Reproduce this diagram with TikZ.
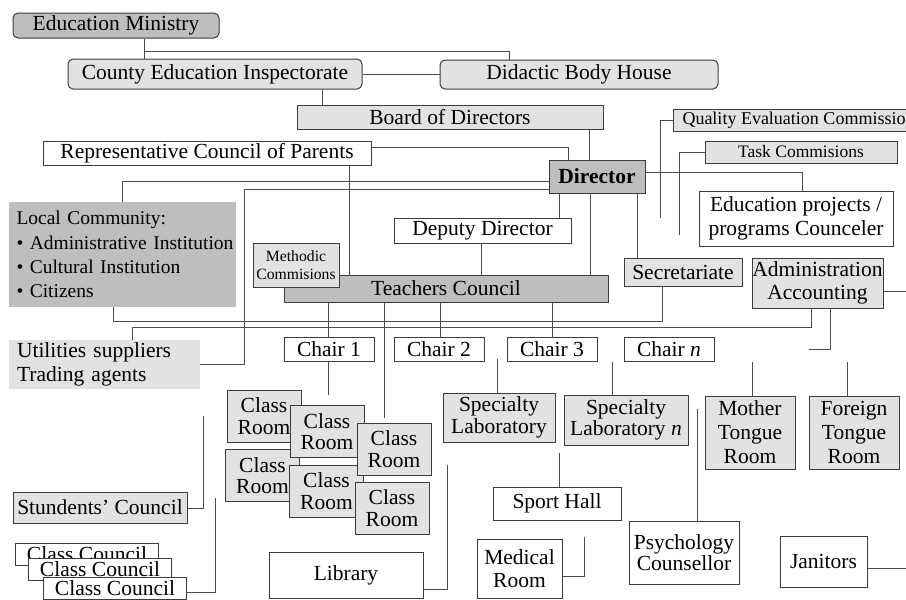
\documentclass[tikz,border=0pt]{standalone}
\usepackage{fontspec}
\setmainfont{Liberation Serif}
\definecolor{dfill}{RGB}{190,190,190}
\definecolor{lfill}{RGB}{225,226,228}
\definecolor{bord}{RGB}{60,60,60}
\definecolor{conn}{RGB}{75,75,75}
\pgfdeclarelayer{bg}
\pgfsetlayers{bg,main}
\tikzset{
 bx/.style={draw=bord, line width=1pt, inner sep=0pt, align=center, font=\fontsize{21.5}{22.5}\selectfont},
 lt/.style={bx, fill=lfill},
 dk/.style={bx, fill=dfill},
 wh/.style={bx, fill=white},
 rnd/.style={rounded corners=5pt},
 cn/.style={draw=conn, line width=1pt},
 sz/.style n args={2}{minimum width=#1pt, minimum height=#2pt},
 croom/.style={lt, sz={74}{52}, font=\fontsize{21.5}{21.7}\selectfont},
 ccl/.style={wh, sz={143}{22}},
}
\begin{document}
\begin{tikzpicture}[x=1pt,y=-1pt]
\useasboundingbox (0,0) rectangle (906,600);
\clip (0,0) rectangle (906,600);
% top
\node[dk,rnd,sz={206}{25}] (edm) at (116,25.5) {Education Ministry};
\node[lt,rnd,sz={294}{30}] (cei) at (215,74) {County Education Inspectorate};
\node[lt,rnd,sz={278}{29}] (dbh) at (579,74.5) {Didactic Body House};
\node[lt,sz={306}{24}] (bod) at (450,117) {Board of Directors};
\node[wh,sz={328}{24}] (rcp) at (207,153) {Representative Council of Parents};
\node[dk,sz={96}{33},font=\fontsize{21.5}{22.5}\selectfont\bfseries] (dir) at (597,176.5) {Director};
\node[lt,anchor=west,minimum height=22pt,inner xsep=9pt,font=\fontsize{18}{20}\selectfont] (qec) at (673,120) {Quality Evaluation Commission};
\node[lt,sz={192}{22},font=\fontsize{17.5}{19}\selectfont] (tc) at (801,152) {Task Commisions};
\node[wh,sz={194}{55},font=\fontsize{21.5}{23.3}\selectfont] (epc) at (796,218.5) {Education projects /\\programs Counceler};
% left
\node[fill=dfill,inner xsep=8pt,inner ysep=0pt,text width=211pt,minimum height=105pt,align=left,font=\fontsize{19.5}{24.3}\selectfont] (lc) at (122,254.5) {\mbox{Local Community:}\\\mbox{\textbullet\ Administrative Institution}\\\mbox{\textbullet\ Cultural Institution}\\\mbox{\textbullet\ Citizens}};
\node[fill=lfill,inner xsep=8pt,inner ysep=0pt,text width=175pt,minimum height=49pt,align=left,font=\fontsize{21.5}{23.3}\selectfont] (ut) at (104.5,364.5) {\mbox{Utilities suppliers}\\\mbox{Trading agents}};
% middle
\node[wh,sz={177}{25}] (dd) at (482.5,230.5) {Deputy Director};
\node[dk,sz={324}{27}] (tcl) at (446,288.5) {Teachers Council};
\node[lt,sz={86}{44},font=\fontsize{15.7}{17.7}\selectfont] (mc) at (296,265) {Methodic\\Commisions};
\node[lt,sz={118}{28}] (sec) at (683,272) {Secretariate};
\node[lt,sz={131}{50}] (adm) at (817.5,283) {Administration\\Accounting};
% chairs
\node[wh,sz={90}{24}] (ch1) at (329,349) {Chair 1};
\node[wh,sz={90}{24}] (ch2) at (439,349) {Chair 2};
\node[wh,sz={90}{24}] (ch3) at (552,349) {Chair 3};
\node[wh,sz={90}{24}] (chn) at (669,349) {Chair \textit{n}};
% class rooms
\node[croom] (cr1) at (264,416) {Class\\Room};
\node[croom] (cr4) at (262.5,475.5) {Class\\Room};
\node[croom] (cr2) at (327,431.5) {Class\\Room};
\node[croom] (cr5) at (326.5,491) {Class\\Room};
\node[croom] (cr3) at (394,449) {Class\\Room};
\node[croom] (cr6) at (392,508) {Class\\Room};
% labs, rooms
\node[lt,sz={112}{49},font=\fontsize{21.5}{21.7}\selectfont] (sl) at (499,417.5) {Specialty\\Laboratory};
\node[lt,sz={124}{50},font=\fontsize{21.5}{21.7}\selectfont] (sln) at (626,420) {Specialty\\Laboratory \textit{n}};
\node[lt,sz={90}{73},font=\fontsize{21.5}{24}\selectfont] (mtr) at (750,432.5) {Mother\\Tongue\\Room};
\node[lt,sz={90}{73},font=\fontsize{21.5}{24}\selectfont] (ftr) at (854,432.5) {Foreign\\Tongue\\Room};
\node[lt,sz={174}{31}] (sc) at (100,507.5) {Stundents’ Council};
\node[wh,sz={128}{33}] (sh) at (557,503.5) {Sport Hall};
\node[wh,sz={110}{63},font=\fontsize{21.5}{21.7}\selectfont] (pc) at (684,552.5) {Psychology\\Counsellor};
\node[wh,sz={85}{59},font=\fontsize{21.5}{23.3}\selectfont] (mr) at (519.5,568.5) {Medical\\Room};
\node[wh,sz={87}{51}] (jan) at (823.5,561.5) {Janitors};
\node[wh,sz={154}{46}] (lib) at (346,575) {Library};
\node[ccl] (cc1) at (87,554) {Class Council};
\node[ccl] (cc2) at (100,569) {Class Council};
\node[ccl] (cc3) at (115,588) {Class Council};
% free ends
\coordinate (qend) at (660,218);
\coordinate (tend) at (679,235);
\coordinate (aend) at (906,291);
\coordinate (aend2) at (809,349);
\coordinate (c1end) at (328,395);
\coordinate (c3end) at (384,418);
\coordinate (slstart) at (497,359);
\coordinate (slnstart) at (612,362);
\coordinate (mtstart) at (752,362);
\coordinate (ftstart) at (847,362);
\coordinate (shstart) at (559,453);
\coordinate (pcstart) at (697,409);
\coordinate (mrend) at (584,537);
\coordinate (libend) at (447,465);
\coordinate (jend) at (906,568);
\coordinate (scend) at (203,416);
\coordinate (ccend) at (215,498);
\coordinate (j1) at (144,51);
\begin{pgfonlayer}{bg}
\draw[cn] (edm.south -| 144,0) -- (cei.north -| 144,0);
\draw[cn] (j1) -| (dbh.north -| 509,0);
\draw[cn] (cei.east) -- (dbh.west |- cei.east);
\draw[cn] (cei.south -| 322,0) -- (bod.north -| 322,0);
\draw[cn] (bod.south -| 589,0) -- (dir.north -| 589,0);
\draw[cn] (rcp.east |- 0,147) -| (dir.north -| 568,0);
\draw[cn] (rcp.south -| 349,0) -- (tcl.north -| 349,0);
\draw[cn] (dir.west |- 0,181) -| (lc.north -| 122,0);
\draw[cn] (dir.west |- 0,189) -| (ut.east -| 244,0) -- (ut.east);
\draw[cn] (dir.east |- 0,172) -| (epc.north -| 802,0);
\draw[cn] (dir.south -| 559,0) -- (dd.north -| 559,0);
\draw[cn] (dir.south -| 590,0) -- (tcl.north -| 590,0);
\draw[cn] (dir.south -| 637,0) -- (sec.north -| 637,0);
\draw[cn] (dd.south -| 481,0) -- (tcl.north -| 481,0);
\draw[cn] (qec.west) -| (qend);
\draw[cn] (tc.west) -| (tend);
\draw[cn] (lc.south -| 113,0) |- (662,321) -- (sec.south -| 662,0);
\draw[cn] (ut.north -| 132,0) |- (811,327) -- (adm.south -| 811,0);
\draw[cn] (adm.east |- 0,291) -- (aend);
\draw[cn] (adm.south -| 830,0) |- (aend2);
\draw[cn] (tcl.south -| 328,0) -- (ch1.north -| 328,0);
\draw[cn] (ch1.south -| 328,0) -- (c1end);
\draw[cn] (tcl.south -| 384,0) -- (c3end);
\draw[cn] (tcl.south -| 440,0) -- (ch2.north -| 440,0);
\draw[cn] (tcl.south -| 552,0) -- (ch3.north -| 552,0);
\draw[cn] (slstart) -- (sl.north -| 497,0);
\draw[cn] (slnstart) -- (sln.north -| 612,0);
\draw[cn] (mtstart) -- (mtr.north -| 752,0);
\draw[cn] (ftstart) -- (ftr.north -| 847,0);
\draw[cn] (shstart) -- (sh.north -| 559,0);
\draw[cn] (pcstart) -- (pc.north -| 697,0);
\draw[cn] (mr.east |- 0,576) -| (mrend);
\draw[cn] (lib.east |- 0,589) -| (libend);
\draw[cn] (jan.east |- 0,568) -- (jend);
\draw[cn] (sc.east |- 0,508) -| (scend);
\draw[cn] (cc3.east |- 0,592) -| (ccend);
\end{pgfonlayer}
\end{tikzpicture}
\end{document}
